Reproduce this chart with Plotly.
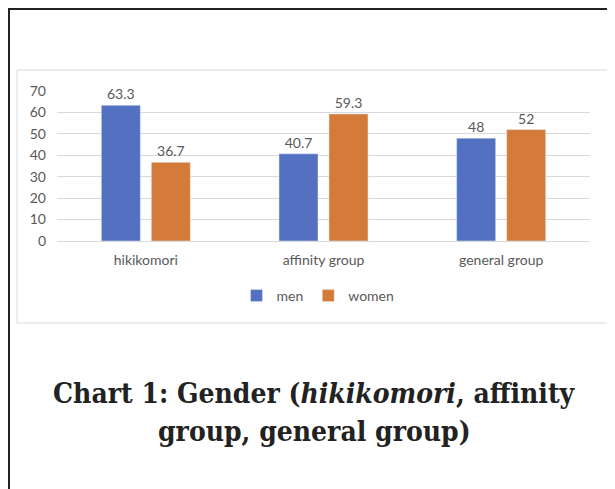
import plotly.graph_objects as go

categories = ["hikikomori", "affinity group", "general group"]
men = [63.3, 40.7, 48]
women = [36.7, 59.3, 52]
y_ticks = [0, 10, 20, 30, 40, 50, 60, 70]

# page has an 8px body margin; positions below are page pixels
W, H = 607, 481
OFF = 8
def px(x): return (x - OFF) / W
def py(y): return 1 - (y - OFF) / H

label_font = dict(family="Lato, Noto Sans, sans-serif", size=14, color="#595959")

fig = go.Figure()
fig.add_trace(go.Bar(name="men", x=categories, y=men, marker_color="#5470C1",
                     text=[f"{v:g}" for v in men], textposition="outside",
                     textfont=label_font, cliponaxis=False))
fig.add_trace(go.Bar(name="women", x=categories, y=women, marker_color="#D57B3A",
                     text=[f"{v:g}" for v in women], textposition="outside",
                     textfont=label_font, cliponaxis=False))

cap_font = dict(family="DejaVu Serif Condensed, DejaVu Serif", size=28, color="#222222")

fig.update_layout(
    width=W, height=H,
    margin=dict(l=0, r=0, t=0, b=0, autoexpand=False),
    paper_bgcolor="white", plot_bgcolor="white",
    barmode="group", bargap=0.437, bargroupgap=0.22,
    font=label_font,
    xaxis=dict(domain=[px(57), px(590)], showgrid=False, showline=True, automargin=False,
               linecolor="#d9d9d9", linewidth=1, ticks="", ticklabelstandoff=6,
               tickfont=label_font),
    yaxis=dict(domain=[py(241), py(91)], range=[0, 70], tickvals=y_ticks, automargin=False,
               showgrid=True, gridcolor="#d9d9d9", gridwidth=1, zeroline=False,
               showline=False, ticks="", ticklabelstandoff=10, tickfont=label_font),
    legend=dict(orientation="h", x=px(318), xanchor="center", y=py(296), yanchor="middle",
                font=label_font, traceorder="normal", itemwidth=30),
    showlegend=True,
    shapes=[
        dict(type="rect", xref="paper", yref="paper", x0=px(17), x1=px(610), y0=py(323), y1=py(70),
             line=dict(color="#d9d9d9", width=1)),
        dict(type="line", xref="paper", yref="paper", x0=0, x1=1, y0=py(9), y1=py(9),
             line=dict(color="#222222", width=2)),
        dict(type="line", xref="paper", yref="paper", x0=px(9), x1=px(9), y0=py(8), y1=0,
             line=dict(color="#222222", width=2)),
    ],
    annotations=[
        dict(xref="paper", yref="paper", x=px(314), y=py(393), xanchor="center", yanchor="middle",
             showarrow=False, text="<b>Chart 1: Gender (<i>hikikomori</i>, affinity</b>", font=cap_font),
        dict(xref="paper", yref="paper", x=px(314), y=py(431), xanchor="center", yanchor="middle",
             showarrow=False, text="<b>group, general group)</b>", font=cap_font),
    ],
)

fig.write_html("out.html")
